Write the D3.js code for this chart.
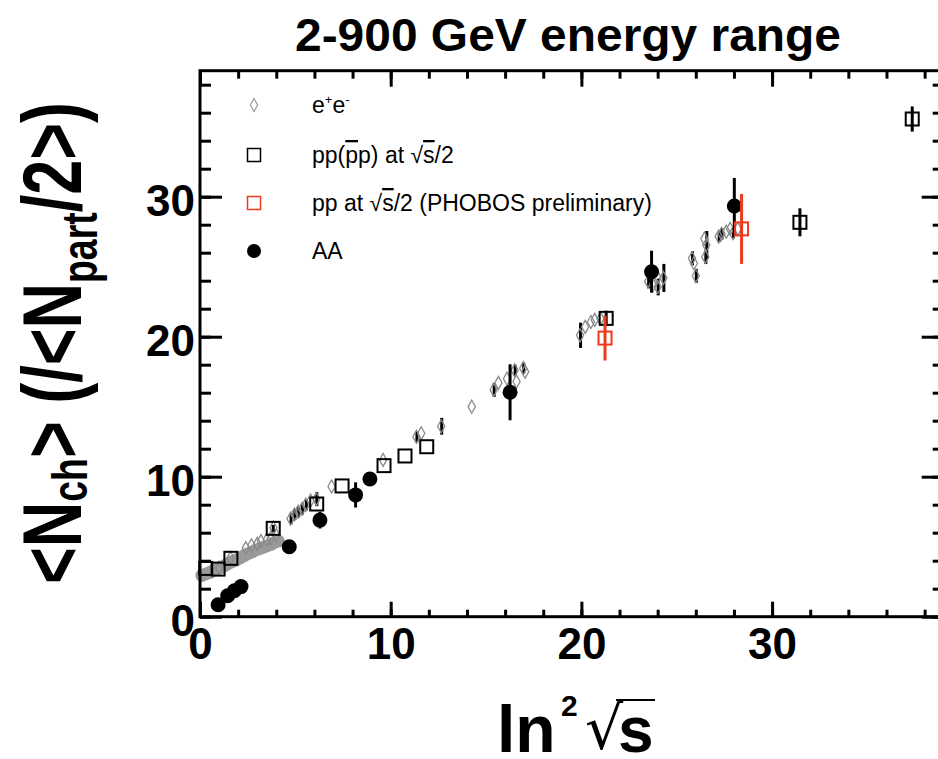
<!DOCTYPE html>
<html><head><meta charset="utf-8">
<script src="https://cdn.jsdelivr.net/npm/d3@7"></script>
<style>body{margin:0;background:#fff} text{font-family:"Liberation Sans",Arial,Helvetica,sans-serif}</style>
</head><body>
<svg id="c" width="938" height="759"></svg>
<script>
// ---------- data ----------
const xTickLabels = [0, 10, 20, 30];
const yTickLabels = [0, 10, 20, 30];

// e+e- (open gray diamonds), some with black error bars
const eeX   = [2.4, 2.7, 3.0, 3.2, 3.5, 3.7, 4.0, 1.0, 1.6, 3.85,
               4.75, 4.95, 5.15, 5.35, 5.55, 5.8, 6.1, 6.9, 9.6, 11.35, 11.6, 12.65, 14.25,
               15.4, 15.65, 16.1, 16.5, 16.6, 16.95, 17.05,
               19.93, 20.2, 20.5, 20.7, 21.0,
               23.5, 23.75, 24.0, 24.0, 24.3,
               25.8, 25.9, 26.0, 26.45, 26.55, 26.5,
               27.2, 27.35, 27.6, 27.8, 27.95, 28.2];
const eeY   = [4.9, 5.1, 5.2, 5.4, 5.5, 5.6, 5.8, 3.5, 4.2, 6.35,
               7.0, 7.3, 7.5, 7.7, 8.0, 8.3, 8.4, 9.3, 11.2, 12.85, 13.1, 13.6, 15.0,
               16.2, 16.7, 17.0, 17.6, 16.8, 17.75, 17.5,
               20.1, 20.7, 21.05, 21.2, 21.3,
               23.95, 23.7, 23.55, 24.25, 24.2,
               25.6, 25.25, 24.35, 27.0, 26.55, 25.7,
               27.15, 27.35, 27.5, 27.7, 27.4, 27.7];
const eeErr = [0, 0, 0, 0, 0, 0, 0, 0, 0, 0,
               0.4, 0.4, 0.4, 0.4, 0.4, 0, 0.5, 0, 0, 0.4, 0, 0.6, 0,
               0.5, 0, 0, 0.4, 0, 0.4, 0,
               0.9, 0, 0, 0, 0,
               0.5, 0, 0.6, 0, 1.0,
               0.5, 0, 0.5, 0, 1.0, 0.5,
               0.4, 0.4, 0, 0, 0.4, 0];

// low-energy e+e- points (dense gray band)
const eeLowX = [0.1, 0.3, 0.5, 0.7, 0.9, 1.1, 1.3, 1.5, 1.7, 1.9, 2.1, 2.3, 2.5, 2.7, 2.9, 3.1, 3.3, 3.5, 3.7, 3.9, 4.1];
const eeLowY = [2.95, 3.05, 3.15, 3.3, 3.4, 3.5, 3.65, 3.8, 3.95, 4.05, 4.2, 4.35, 4.5, 4.6, 4.75, 4.85, 4.95, 5.05, 5.15, 5.3, 5.4];

// pp(pbar p) at sqrt(s)/2 (open black squares)
const ppX   = [0.3, 0.95, 1.62, 3.84, 6.12, 7.45, 9.65, 10.75, 11.89, 21.3, 31.46, 37.35];
const ppY   = [3.45, 3.4, 4.17, 6.31, 8.05, 9.34, 10.79, 11.48, 12.14, 21.31, 28.17, 35.55];
const ppErr = [0, 0, 0, 0.25, 0, 0, 0, 0, 0, 0.55, 1.0, 0.9];

// pp PHOBOS preliminary (open red squares)
const phX   = [21.24, 28.4];
const phY   = [19.9, 27.7];
const phErr = [1.6, 2.5];

// AA (filled black circles)
const aaX   = [0.95, 1.45, 1.8, 2.15, 4.68, 6.29, 8.16, 8.91, 16.26, 23.68, 28.02];
const aaY   = [0.85, 1.5, 1.85, 2.15, 5.0, 6.9, 8.7, 9.84, 16.03, 24.64, 29.34];
const aaErr = [0, 0, 0, 0, 0.2, 0.6, 0.9, 0.3, 2.0, 1.5, 2.0];

// ---------- drawing ----------
const svg = d3.select("#c");
const x = d3.scaleLinear().domain([0, 39]).range([200, 943.7]);
const y = d3.scaleLinear().domain([0, 39]).range([616.7, 70.7]);
const RED = "#ee3a1c";
const minor = d3.range(0, 40, 2);

function styleAxis(g) {
  g.select(".domain").remove();
  g.selectAll("line").attr("stroke", "#000").attr("stroke-width", 3);
  g.selectAll("text").attr("fill", "#000").style("font-size", "44px").style("font-weight", "bold")
    .style("font-family", "'Liberation Sans',Arial,sans-serif");
}
// bottom
svg.append("g").attr("transform", `translate(0,${y(0)})`)
  .call(d3.axisBottom(x).tickValues(minor).tickSize(-7).tickFormat("")).call(styleAxis);
svg.append("g").attr("transform", `translate(0,${y(0)})`)
  .call(d3.axisBottom(x).tickValues(xTickLabels).tickSize(-15).tickPadding(11).tickFormat(d3.format("d"))).call(styleAxis);
// top
svg.append("g").attr("transform", `translate(0,${y(39)})`)
  .call(d3.axisTop(x).tickValues(minor).tickSize(-8).tickFormat("")).call(styleAxis);
svg.append("g").attr("transform", `translate(0,${y(39)})`)
  .call(d3.axisTop(x).tickValues(xTickLabels).tickSize(-16).tickFormat("")).call(styleAxis);
// left
svg.append("g").attr("transform", `translate(${x(0)},0)`)
  .call(d3.axisLeft(y).tickValues(minor).tickSize(-11).tickFormat("")).call(styleAxis);
const gl = svg.append("g").attr("transform", `translate(${x(0)},0)`)
  .call(d3.axisLeft(y).tickValues(yTickLabels).tickSize(-22).tickPadding(5).tickFormat(d3.format("d"))).call(styleAxis);
gl.selectAll("text").attr("dy", "0.42em");
// right
svg.append("g").attr("transform", `translate(${x(39)},0)`)
  .call(d3.axisRight(y).tickValues(minor).tickSize(-11).tickFormat("")).call(styleAxis);
svg.append("g").attr("transform", `translate(${x(39)},0)`)
  .call(d3.axisRight(y).tickValues(yTickLabels).tickSize(-22).tickFormat("")).call(styleAxis);

const plot = svg.append("g");

// low gray band
plot.selectAll(".low").data(eeLowX).join("circle")
  .attr("cx", (d) => x(d)).attr("cy", (d, i) => y(eeLowY[i])).attr("r", 6.5).attr("fill", "#9a9a9a");

const diamond = "M0,-6.5L3.6,0L0,6.5L-3.6,0Z";
// e+e- error bars
plot.selectAll(".eeerr").data(eeX.map((d, i) => i).filter(i => eeErr[i] > 0)).join("line")
  .attr("x1", i => x(eeX[i]) + 0.5).attr("x2", i => x(eeX[i]) + 0.5)
  .attr("y1", i => y(eeY[i] + eeErr[i])).attr("y2", i => y(eeY[i] - eeErr[i]))
  .attr("stroke", "#000").attr("stroke-width", 3);
plot.selectAll(".ee").data(eeX).join("path")
  .attr("d", diamond).attr("transform", (d, i) => `translate(${x(d)},${y(eeY[i])})`)
  .attr("fill", "none").attr("stroke", "#8a8a8a").attr("stroke-width", 1.3);

function errs(X, Y, E, color) {
  plot.selectAll(null).data(X.map((d, i) => i).filter(i => E[i] > 0)).join("line")
    .attr("x1", i => x(X[i])).attr("x2", i => x(X[i]))
    .attr("y1", i => y(Y[i] + E[i])).attr("y2", i => y(Y[i] - E[i]))
    .attr("stroke", color).attr("stroke-width", 3);
}
// pp squares
errs(ppX, ppY, ppErr, "#000");
plot.selectAll(".pp").data(ppX).join("rect")
  .attr("x", d => x(d) - 6.5).attr("y", (d, i) => y(ppY[i]) - 6.5).attr("width", 13).attr("height", 13)
  .attr("fill", "none").attr("stroke", "#000").attr("stroke-width", 2);

// AA
errs(aaX, aaY, aaErr, "#000");
plot.selectAll(".aa").data(aaX).join("circle")
  .attr("cx", d => x(d)).attr("cy", (d, i) => y(aaY[i])).attr("r", 7.5).attr("fill", "#000");

// PHOBOS
errs(phX, phY, phErr, RED);
plot.selectAll(".ph").data(phX).join("rect")
  .attr("x", d => x(d) - 6.5).attr("y", (d, i) => y(phY[i]) - 6.5).attr("width", 13).attr("height", 13)
  .attr("fill", "none").attr("stroke", RED).attr("stroke-width", 2);

// frame
svg.append("rect").attr("x", x(0)).attr("y", y(39)).attr("width", x(39) - x(0)).attr("height", y(0) - y(39))
  .attr("fill", "none").attr("stroke", "#000").attr("stroke-width", 3);

// ---------- legend ----------
const lg = svg.append("g");
const lx = 254, tx = 312, rows = [105, 155, 203, 251];
lg.append("path").attr("d", diamond).attr("transform", `translate(${lx},${rows[0]})`)
  .attr("fill", "none").attr("stroke", "#999").attr("stroke-width", 1.2);
lg.append("rect").attr("x", lx - 6.5).attr("y", rows[1] - 6.5).attr("width", 13).attr("height", 13)
  .attr("fill", "none").attr("stroke", "#000").attr("stroke-width", 1.5);
lg.append("rect").attr("x", lx - 6.5).attr("y", rows[2] - 6.5).attr("width", 13).attr("height", 13)
  .attr("fill", "none").attr("stroke", RED).attr("stroke-width", 1.5);
lg.append("circle").attr("cx", lx).attr("cy", rows[3]).attr("r", 7).attr("fill", "#000");

const fs = 23;
let t = lg.append("text").attr("x", tx).attr("y", rows[0] + 8).style("font-size", fs + "px");
t.append("tspan").text("e");
t.append("tspan").text("+").attr("dy", -9).style("font-size", "13px");
t.append("tspan").text("e").attr("dy", 9);
t.append("tspan").text("-").attr("dy", -9).style("font-size", "13px");

t = lg.append("text").attr("x", tx).attr("y", rows[1] + 8).style("font-size", fs + "px");
t.append("tspan").text("pp(");
t.append("tspan").text("p").style("text-decoration", "overline");
t.append("tspan").text("p) at √");
t.append("tspan").text("s").style("text-decoration", "overline");
t.append("tspan").text("/2");

t = lg.append("text").attr("x", tx).attr("y", rows[2] + 8).style("font-size", fs + "px");
t.append("tspan").text("pp at √");
t.append("tspan").text("s").style("text-decoration", "overline");
t.append("tspan").text("/2 (PHOBOS preliminary)");

lg.append("text").attr("x", tx).attr("y", rows[3] + 8).style("font-size", fs + "px").text("AA");

// ---------- titles ----------
svg.append("text").attr("x", 568).attr("y", 51).attr("text-anchor", "middle")
  .attr("textLength", 546).attr("lengthAdjust", "spacingAndGlyphs")
  .style("font-size", "47px").style("font-weight", "bold").text("2-900 GeV energy range");

// x title: ln^2 sqrt(s)
const xt = svg.append("g");
xt.append("text").attr("x", 497).attr("y", 752).style("font-size", "66px").style("font-weight", "bold").text("ln");
xt.append("text").attr("x", 561).attr("y", 716).style("font-size", "30px").style("font-weight", "bold").text("2");
xt.append("text").attr("x", 585).attr("y", 749).style("font-size", "60px").style("font-family", "'DejaVu Sans'").style("font-weight", "normal").text("√");
xt.append("text").attr("x", 618).attr("y", 752).style("font-size", "64px").style("font-weight", "bold").text("s");
xt.append("line").attr("x1", 616).attr("x2", 655).attr("y1", 700).attr("y2", 700).attr("stroke", "#000").attr("stroke-width", 2);

// y title
const yt = svg.append("text").attr("transform", "translate(81,343) rotate(-90)")
  .attr("text-anchor", "middle").attr("textLength", 482).attr("lengthAdjust", "spacingAndGlyphs")
  .style("font-size", "84px").style("font-weight", "bold");
yt.append("tspan").text("<N");
yt.append("tspan").text("ch").attr("dy", 6).style("font-size", "50px");
yt.append("tspan").text("> (/<N").attr("dy", -6);
yt.append("tspan").text("part").attr("dy", 16).style("font-size", "50px");
yt.append("tspan").text("/2>)").attr("dy", -16);
</script>
</body></html>
